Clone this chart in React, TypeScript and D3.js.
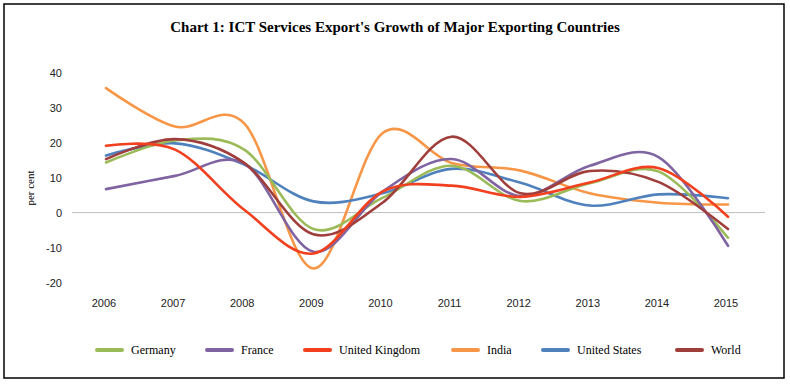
import React from "react";
import * as d3 from "d3";

const years = ["2006", "2007", "2008", "2009", "2010", "2011", "2012", "2013", "2014", "2015"];
const germany = [14.3, 20.6, 18.0, -4.7, 4.2, 13.4, 3.3, 8.4, 11.7, -7.2];
const france = [6.7, 10.5, 14.0, -11.2, 6.0, 15.3, 4.7, 13.4, 15.8, -9.5];
const uk = [19.1, 18.0, 0.8, -11.7, 6.0, 7.7, 4.5, 8.6, 12.7, -1.2];
const india = [35.6, 24.6, 25.5, -16.0, 22.7, 14.2, 12.0, 5.5, 2.8, 2.3];
const us = [16.3, 19.8, 13.7, 3.2, 5.5, 12.5, 8.5, 2.0, 5.2, 4.1];
const world = [15.3, 21.0, 14.2, -6.2, 2.8, 21.7, 5.5, 11.9, 8.7, -4.7];
const yTicks = [40, 30, 20, 10, 0, -10, -20];

const seriesNames = ["Germany", "France", "United Kingdom", "India", "United States", "World"];
const seriesValues = [germany, france, uk, india, us, world];
const colors = ["#9BBB59", "#8064A2", "#F2401F", "#F79646", "#4F81BD", "#A03E3C"];
const legendX = [97, 207, 305, 453, 543, 677];

export default function App() {
  const W = 790;
  const H = 385;
  const x = d3.scalePoint<string>().domain(years).range([106, 728]);
  const y = d3.scaleLinear().domain([-20, 40]).range([282.5, 72.7]);
  const line = d3
    .line<number>()
    .x((_, i) => x(years[i]) as number)
    .y((d) => y(d))
    .curve(d3.curveCardinal.tension(0));

  const order = [3, 4, 0, 1, 5, 2];

  return (
    <svg width={W} height={H} style={{ position: "absolute", left: 0, top: 0 }}>
      <rect x={0} y={0} width={W} height={H} fill="#fff" />
      <rect x={4} y={4} width={780} height={374} fill="none" stroke="#000" strokeWidth={1.5} />
      <text
        x={395}
        y={32}
        textAnchor="middle"
        fontFamily="'Liberation Serif', serif"
        fontWeight="bold"
        fontSize={15}
        fill="#000"
      >
        Chart 1: ICT Services Export's Growth of Major Exporting Countries
      </text>
      <line x1={72} x2={765} y1={y(0)} y2={y(0)} stroke="#BFBFBF" strokeWidth={1} />
      {yTicks.map((t) => (
        <text
          key={t}
          x={62}
          y={y(t) + 4}
          textAnchor="end"
          fontFamily="'Liberation Sans', sans-serif"
          fontSize={11}
          fill="#222"
        >
          {t}
        </text>
      ))}
      {years.map((yr) => (
        <text
          key={yr}
          x={(x(yr) as number) - 2}
          y={307}
          textAnchor="middle"
          fontFamily="'Liberation Sans', sans-serif"
          fontSize={11}
          fill="#222"
        >
          {yr}
        </text>
      ))}
      <text
        transform={`translate(34,188) rotate(-90)`}
        textAnchor="middle"
        fontFamily="'Liberation Serif', serif"
        fontSize={11}
        fill="#000"
      >
        per cent
      </text>
      {order.map((i) => (
        <path
          key={seriesNames[i]}
          d={line(seriesValues[i]) || ""}
          fill="none"
          stroke={colors[i]}
          strokeWidth={2.6}
          strokeLinejoin="round"
          strokeLinecap="round"
        />
      ))}
      {seriesNames.map((n, i) => (
        <g key={n} transform={`translate(${legendX[i]},350)`}>
          <line x1={0} x2={25} y1={0} y2={0} stroke={colors[i]} strokeWidth={4} strokeLinecap="round" />
          <text x={34} y={4} fontFamily="'Liberation Serif', serif" fontSize={12} fill="#000">
            {n}
          </text>
        </g>
      ))}
    </svg>
  );
}
